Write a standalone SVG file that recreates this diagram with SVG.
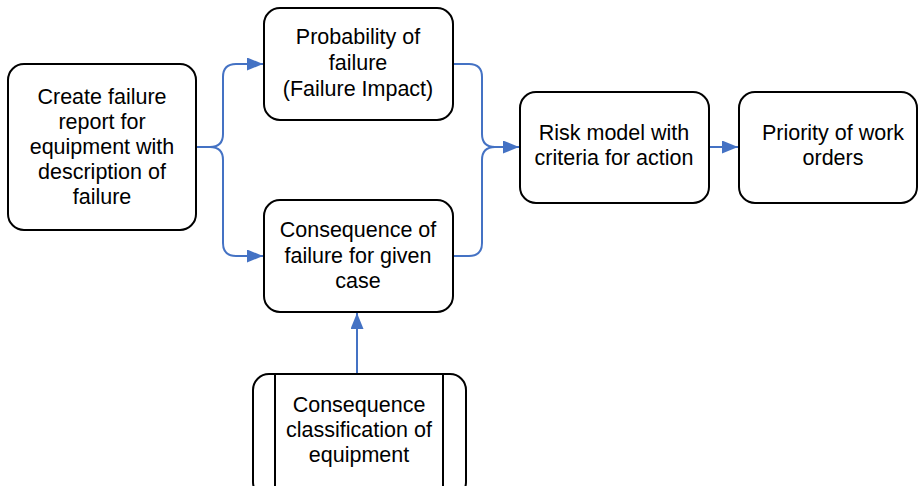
<svg xmlns="http://www.w3.org/2000/svg" width="918" height="486" viewBox="0 0 918 486">
  <style>
    .box { fill: #ffffff; stroke: #000000; stroke-width: 2; }
    .lbl { font-family: "Liberation Sans", Arial, sans-serif; font-size: 21.5px; fill: #000000; text-anchor: middle; }
    .conn { fill: none; stroke: #4472C4; stroke-width: 2; }
  </style>
  <defs>
    <marker id="arrow" viewBox="0 0 10 10" refX="10" refY="5" markerWidth="16" markerHeight="13" markerUnits="userSpaceOnUse" orient="auto" preserveAspectRatio="none">
      <path d="M0,0 L10,5 L0,10 Z" fill="#4472C4"/>
    </marker>
  </defs>
  <rect width="918" height="486" fill="#ffffff"/>

  <g id="connectors">
    <!-- split from failure report to probability / consequence -->
    <path class="conn" d="M196,147 H210 Q223,147 223,134 V77 Q223,64 236,64 H263" marker-end="url(#arrow)"/>
    <path class="conn" d="M210,147 Q223,147 223,160 V243 Q223,256 236,256 H263" marker-end="url(#arrow)"/>
    <!-- merge into risk model -->
    <path class="conn" d="M453,64 H469 Q482,64 482,77 V134 Q482,147 495,147 H519" marker-end="url(#arrow)"/>
    <path class="conn" d="M453,256 H469 Q482,256 482,243 V160 Q482,147 495,147"/>
    <!-- risk model to priority -->
    <path class="conn" d="M709,147 H738" marker-end="url(#arrow)"/>
    <!-- classification up to consequence -->
    <path class="conn" d="M357,374 V313" marker-end="url(#arrow)"/>
  </g>

  <g id="failure-report">
    <rect class="box" x="8" y="64" width="188" height="166" rx="16"/>
    <text class="lbl" x="102" y="104">Create failure</text>
    <text class="lbl" x="102" y="129">report for</text>
    <text class="lbl" x="102" y="154">equipment with</text>
    <text class="lbl" x="102" y="179">description of</text>
    <text class="lbl" x="102" y="204">failure</text>
  </g>

  <g id="probability">
    <rect class="box" x="264" y="8" width="189" height="112" rx="16"/>
    <text class="lbl" x="358" y="44">Probability of</text>
    <text class="lbl" x="358" y="70">failure</text>
    <text class="lbl" x="358" y="96">(Failure Impact)</text>
  </g>

  <g id="consequence">
    <rect class="box" x="264" y="200" width="189" height="112" rx="16"/>
    <text class="lbl" x="358" y="237">Consequence of</text>
    <text class="lbl" x="358" y="263">failure for given</text>
    <text class="lbl" x="358" y="288">case</text>
  </g>

  <g id="risk-model">
    <rect class="box" x="520" y="92" width="189" height="111" rx="16"/>
    <text class="lbl" x="614" y="140">Risk model with</text>
    <text class="lbl" x="614" y="165">criteria for action</text>
  </g>

  <g id="priority">
    <rect class="box" x="739" y="92" width="178" height="111" rx="16"/>
    <text class="lbl" x="833" y="140">Priority of work</text>
    <text class="lbl" x="833" y="165">orders</text>
  </g>

  <g id="classification">
    <rect class="box" x="253" y="374" width="213" height="124" rx="16"/>
    <line x1="275" y1="374" x2="275" y2="486" stroke="#000" stroke-width="2"/>
    <line x1="443" y1="374" x2="443" y2="486" stroke="#000" stroke-width="2"/>
    <text class="lbl" x="359" y="412">Consequence</text>
    <text class="lbl" x="359" y="437">classification of</text>
    <text class="lbl" x="359" y="462">equipment</text>
  </g>
</svg>
